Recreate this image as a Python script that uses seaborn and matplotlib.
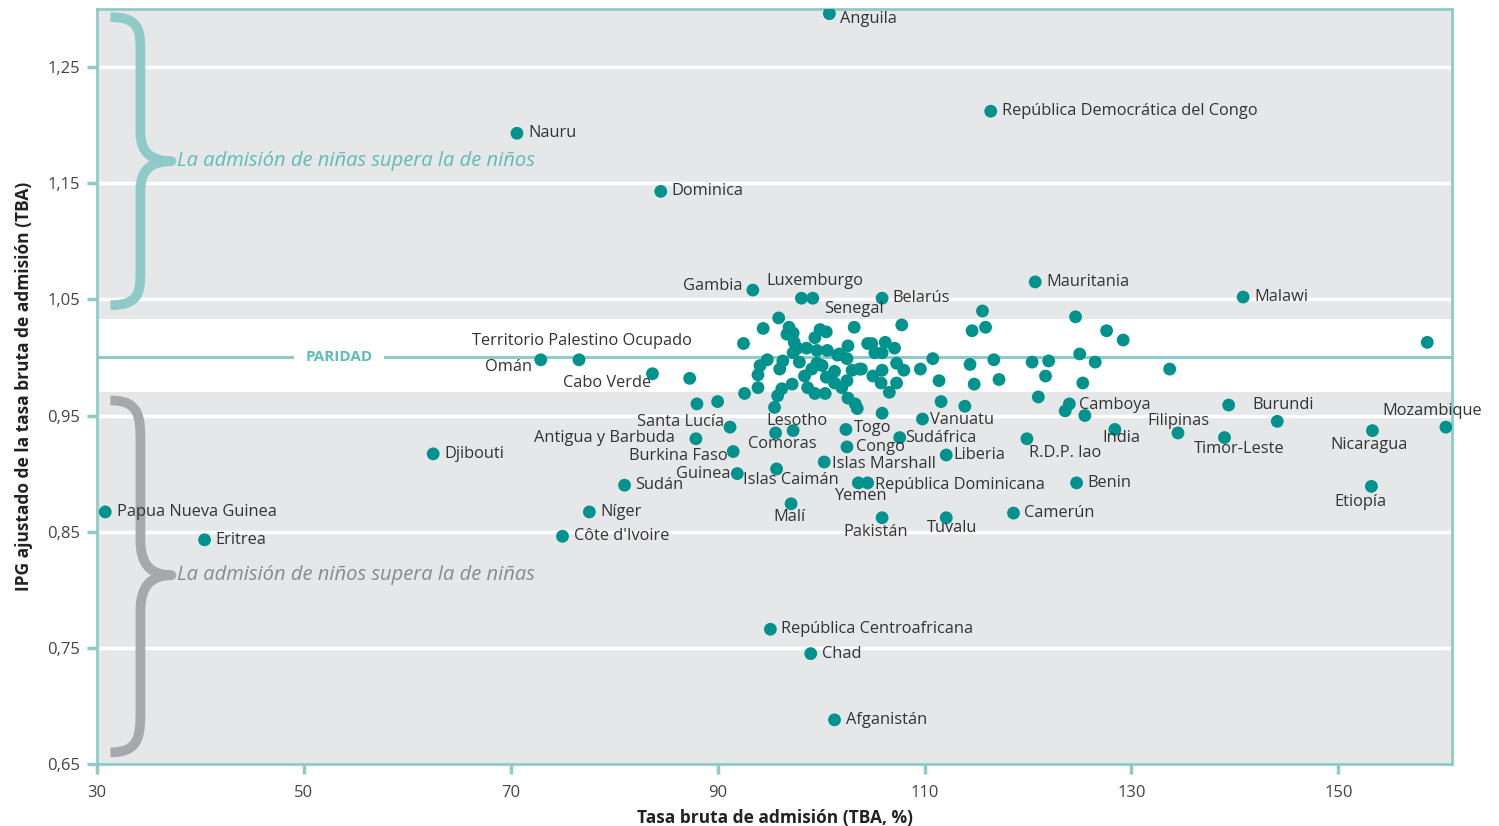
import matplotlib
matplotlib.use("Agg")
import matplotlib.pyplot as plt
import numpy as np
import pandas as pd
import seaborn as sns
from matplotlib.path import Path
from matplotlib.patches import PathPatch

# datos: TBA (%) e IPG ajustado de la TBA

paises = ["Anguila", "República Democrática del Congo", "Nauru", "Dominica", "Gambia",
          "Luxemburgo", "Belarús", "Senegal", "Mauritania", "Malawi",
          "Territorio Palestino Ocupado", "Omán", "Cabo Verde", "Santa Lucía",
          "Antigua y Barbuda", "Burkina Faso", "Guinea", "Sudán", "Níger", "Côte d'Ivoire",
          "Djibouti", "Papua Nueva Guinea", "Eritrea", "República Centroafricana", "Chad",
          "Afganistán", "Lesotho", "Comoras", "Togo", "Congo", "Sudáfrica", "Vanuatu",
          "Liberia", "Islas Marshall", "Islas Caimán", "Yemen", "República Dominicana",
          "Malí", "Pakistán", "Tuvalu", "Camerún", "R.D.P. lao", "Benin", "Camboya",
          "India", "Filipinas", "Timor-Leste", "Burundi", "Nicaragua", "Mozambique",
          "Etiopía"]
tba = [100.8, 116.4, 70.6, 84.5, 93.4,
       99.2, 105.9, 103.2, 120.7, 140.8,
       92.5, 72.9, 83.7, 91.2,
       87.9, 91.5, 91.9, 81.0, 77.6, 75.0,
       62.5, 30.8, 40.4, 95.1, 99.0,
       101.3, 97.3, 95.6, 102.4, 102.5, 107.6, 109.8,
       112.1, 100.3, 95.7, 103.6, 104.5,
       97.1, 105.9, 112.1, 118.6, 119.9, 124.7, 124.0,
       128.4, 134.5, 139.0, 144.1, 153.3, 160.4,
       153.2]
ipg = [1.296, 1.212, 1.193, 1.143, 1.058,
       1.051, 1.051, 1.026, 1.065, 1.052,
       1.012, 0.998, 0.986, 0.940,
       0.930, 0.919, 0.900, 0.890, 0.867, 0.846,
       0.917, 0.867, 0.843, 0.766, 0.745,
       0.688, 0.937, 0.935, 0.938, 0.923, 0.931, 0.947,
       0.916, 0.910, 0.904, 0.892, 0.892,
       0.874, 0.862, 0.862, 0.866, 0.930, 0.892, 0.960,
       0.938, 0.935, 0.931, 0.945, 0.937, 0.940,
       0.889]

# países sin etiqueta
tba_otros = [98.1, 107.8, 115.6, 114.6, 115.9, 124.6, 127.6, 129.2, 110.8, 109.6,
             111.4, 114.4, 116.7, 114.8, 117.2, 120.4, 122.0, 121.7, 125.0, 126.5,
             125.3, 121.0, 111.6, 113.9, 133.7, 139.4, 158.6, 123.6, 125.5, 104.9,
             105.2, 105.9, 106.2, 107.1, 103.9, 105.0, 105.9, 105.8, 106.6, 107.3,
             107.3, 108.0, 105.9, 95.9, 94.4, 96.9, 96.7, 97.3, 97.4, 97.7,
             98.6, 99.4, 99.9, 100.5, 99.6, 100.6, 101.8, 102.6, 104.5, 97.3,
             97.9, 96.3, 94.8, 94.1, 93.9, 96.0, 97.2, 96.2, 95.8, 95.5,
             93.9, 92.6, 98.4, 99.1, 99.6, 98.7, 99.4, 100.1, 100.5, 101.3,
             101.3, 101.6, 102.5, 102.0, 102.5, 103.0, 103.7, 103.3, 102.6, 100.4,
             103.5, 76.6, 87.3, 88.0, 90.0]
ipg_otros = [1.051, 1.028, 1.040, 1.023, 1.026, 1.035, 1.023, 1.015, 0.999, 0.990,
             0.980, 0.994, 0.998, 0.977, 0.981, 0.996, 0.997, 0.984, 1.003, 0.996,
             0.978, 0.966, 0.962, 0.958, 0.990, 0.959, 1.013, 0.954, 0.950, 1.012,
             1.004, 1.004, 1.013, 1.008, 0.990, 0.984, 0.989, 0.978, 0.970, 0.978,
             0.995, 0.989, 0.952, 1.034, 1.025, 1.026, 1.020, 1.021, 1.013, 1.008,
             1.008, 1.017, 1.024, 1.022, 1.006, 1.006, 1.003, 1.010, 1.012, 1.004,
             0.996, 0.997, 0.998, 0.993, 0.985, 0.990, 0.977, 0.973, 0.967, 0.957,
             0.974, 0.969, 0.984, 0.990, 0.995, 0.974, 0.969, 0.993, 0.983, 0.988,
             0.978, 1.002, 0.999, 0.974, 0.980, 0.989, 0.990, 0.960, 0.965, 0.969,
             0.956, 0.998, 0.982, 0.960, 0.962]

# posición de cada etiqueta respecto al punto: (dx px, dy px, alineación)
pos_etiqueta = {
    "Anguila": (11, -5, "left"), "República Democrática del Congo": (11, 0, "left"),
    "Nauru": (11, 0, "left"), "Dominica": (11, 0, "left"), "Gambia": (-10, 4, "right"),
    "Luxemburgo": (2, 17, "center"), "Belarús": (10, 0, "left"), "Senegal": (0, 18, "center"),
    "Mauritania": (11, 0, "left"), "Malawi": (11, 0, "left"),
    "Territorio Palestino Ocupado": (-52, 3, "right"), "Omán": (-9, -7, "right"),
    "Cabo Verde": (-1, -9, "right"), "Santa Lucía": (-6, 5, "right"),
    "Antigua y Barbuda": (-21, 1, "right"), "Burkina Faso": (-6, -4, "right"),
    "Guinea": (-7, 0, "right"), "Sudán": (11, 0, "left"), "Níger": (11, 0, "left"),
    "Côte d'Ivoire": (12, 0, "left"), "Djibouti": (11, 0, "left"),
    "Papua Nueva Guinea": (12, 0, "left"), "Eritrea": (11, 0, "left"),
    "República Centroafricana": (11, 0, "left"), "Chad": (11, 0, "left"),
    "Afganistán": (11, 0, "left"), "Lesotho": (4, 10, "center"), "Comoras": (7, -11, "center"),
    "Togo": (8, 1, "left"), "Congo": (9, 0, "left"), "Sudáfrica": (5, 0, "left"),
    "Vanuatu": (8, -1, "left"), "Liberia": (7, 0, "left"), "Islas Marshall": (8, -2, "left"),
    "Islas Caimán": (14, -11, "center"), "Yemen": (2, -13, "center"),
    "República Dominicana": (7, -2, "left"), "Malí": (-2, -13, "center"),
    "Pakistán": (-6, -14, "center"), "Tuvalu": (6, -10, "center"), "Camerún": (11, 0, "left"),
    "R.D.P. lao": (38, -14, "center"), "Benin": (11, 0, "left"), "Camboya": (10, -1, "left"),
    "India": (7, -9, "center"), "Filipinas": (0, 12, "center"), "Timor-Leste": (15, -11, "center"),
    "Burundi": (6, 16, "center"), "Nicaragua": (-3, -14, "center"),
    "Mozambique": (-14, 16, "center"), "Etiopía": (-11, -16, "center"),
}

TEAL = "#00928c"
TEAL_CLARO = "#8ecbc8"
TEAL_TEXTO = "#5fbcb6"
GRIS_FONDO = "#e6e7e9"
GRIS_LLAVE = "#a7a8ab"
GRIS_TEXTO = "#8a8a8d"
TEXTO = "#333333"

sns.set_theme(style="white")
plt.rcParams['font.family'] = ['Open Sans', 'DejaVu Sans']


def llave(ax, xl, xm, xt, yt, ytip, yb, color):
    h1 = yt - ytip
    h2 = ytip - yb
    verts = [(xl, yt),
             (xm, yt), (xm, yt - 0.1 * h1), (xm, yt - 0.25 * h1),
             (xm, ytip + 0.2 * h1),
             (xm, ytip + 0.05 * h1), (xm + 0.4 * (xt - xm), ytip), (xt, ytip),
             (xm + 0.4 * (xt - xm), ytip), (xm, ytip - 0.05 * h2), (xm, ytip - 0.2 * h2),
             (xm, yb + 0.25 * h2),
             (xm, yb + 0.1 * h2), (xm, yb), (xl, yb)]
    codes = [Path.MOVETO, Path.CURVE4, Path.CURVE4, Path.CURVE4, Path.LINETO,
             Path.CURVE4, Path.CURVE4, Path.CURVE4, Path.CURVE4, Path.CURVE4, Path.CURVE4,
             Path.LINETO, Path.CURVE4, Path.CURVE4, Path.CURVE4]
    ax.add_patch(PathPatch(Path(verts, codes), facecolor="none", edgecolor=color,
                           lw=7, capstyle="butt", joinstyle="round", zorder=3))


df = pd.DataFrame({"tba": tba + tba_otros, "ipg": ipg + ipg_otros})

fig = plt.figure(figsize=(14.99, 8.26), dpi=100)
ax = fig.add_axes([0.0647, 0.0751, 0.904, 0.914])
ax.set_facecolor(GRIS_FONDO)
ax.axhspan(0.97, 1.033, color="white", lw=0, zorder=0.5)
for v in [0.75, 0.85, 0.95, 1.05, 1.15, 1.25]:
    ax.axhline(v, color="white", lw=2.5, zorder=0.6)
ax.axhline(1.0, color=TEAL_CLARO, lw=2.2, zorder=0.7)
ax.text(53.4, 1.0, "PARIDAD", color=TEAL_TEXTO, fontsize=11, fontweight="bold",
        ha="center", va="center", zorder=0.8,
        bbox=dict(facecolor="white", edgecolor="none", pad=8))

sns.scatterplot(data=df, x="tba", y="ipg", color=TEAL, s=85, edgecolor="none",
                ax=ax, zorder=4, legend=False)

for nombre, x, y in zip(paises, tba, ipg):
    dx, dy, ha = pos_etiqueta[nombre]
    ax.annotate(nombre, (x, y), xytext=(dx, dy), textcoords="offset pixels",
                ha=ha, va="center", fontsize=11.8, color=TEXTO, zorder=5)

llave(ax, 31.3, 34.2, 37.2, 1.293, 1.169, 1.045, TEAL_CLARO)
llave(ax, 31.3, 34.2, 37.2, 0.963, 0.8125, 0.660, GRIS_LLAVE)
ax.text(37.7, 1.169, "La admisión de niñas supera la de niños", color=TEAL_TEXTO,
        fontsize=14.5, style="italic", ha="left", va="center", zorder=5)
ax.text(37.7, 0.8125, "La admisión de niños supera la de niñas", color=GRIS_TEXTO,
        fontsize=14.5, style="italic", ha="left", va="center", zorder=5)

ax.set_xlim(30, 161)
ax.set_ylim(0.65, 1.30)
xt = [30, 50, 70, 90, 110, 130, 150]
yt = [0.65, 0.75, 0.85, 0.95, 1.05, 1.15, 1.25]
ax.set_xticks(xt)
ax.set_xticklabels([str(v) for v in xt])
ax.set_yticks(yt)
ax.set_yticklabels([f"{v:.2f}".replace(".", ",") for v in yt])
ax.tick_params(axis="both", which="major", direction="out", length=7, width=2.5,
               color=TEAL_CLARO, labelsize=12, labelcolor="#444444", pad=5,
               bottom=True, left=True)
ax.tick_params(axis="x", pad=8)
for sp in ax.spines.values():
    sp.set_color(TEAL_CLARO)
    sp.set_linewidth(2)
ax.grid(False)

ax.set_xlabel("Tasa bruta de admisión (TBA, %)", fontsize=12.5, fontweight="bold",
              color="#222222", labelpad=6)
ax.set_ylabel("IPG ajustado de la tasa bruta de admisión (TBA)", fontsize=12.5,
              fontweight="bold", color="#222222", labelpad=10)

fig.savefig("out.png", dpi=100)
